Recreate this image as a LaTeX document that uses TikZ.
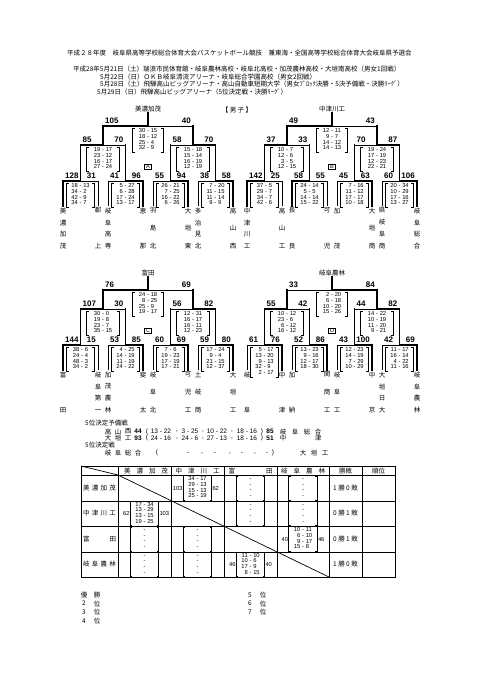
\documentclass[tikz,border=0pt]{standalone}
\usepackage{fontspec}
\setmainfont{Noto Sans CJK JP}
\newfontfamily\suji{Liberation Sans}
\newcommand{\futo}[1]{{\suji\bfseries #1}}
\newcommand{\dan}{\par\vfill}
% coordinates of one block
\newcommand{\kumi}[3]{%
  \foreach \nn/\xl/\xr/\yh/\yb/\yu in {1/63/98/181/206/145,2/108/143/181/206/145,
    3/153/188/181/206/145,4/198/233/181/206/145,5/80.5/125.5/145/145/126,
    6/170.5/215.5/145/145/126,7/103/193/126/126/113}{
    \coordinate (#1\nn L) at (\xl+#2,\yh+#3);
    \coordinate (#1\nn R) at (\xr+#2,\yh+#3);
    \coordinate (#1\nn M) at ({(\xl+\xr)/2+#2},\yh+#3);
    \coordinate (#1\nn Lb) at (\xl+#2,\yb+#3);
    \coordinate (#1\nn Rb) at (\xr+#2,\yb+#3);
    \coordinate (#1\nn U) at ({(\xl+\xr)/2+#2},\yu+#3);
  }}
% one game of the bracket
\newcommand{\bout}[6]{%
  \draw[#3] (#1#2Lb) -- (#1#2L) -- (#1#2M);
  \draw[#4] (#1#2Rb) -- (#1#2R) -- (#1#2M);
  \draw[win] (#1#2M) -- (#1#2U);
  \node[ten,anchor=south west] (#1#2a) at (#1#2L) {#5};
  \node[ten,anchor=south east] (#1#2b) at (#1#2R) {#6};}
% period scores in brackets
\newcommand{\kakko}[4][]{%
  \node[waku,#1] (#2) at (#3) {\begin{tabular}{@{}r@{\hspace{1.8pt}-\hspace{1.8pt}}l@{}}#4\end{tabular}};
  \draw[kk] ([xshift=2pt]#2.north west) -- (#2.north west) -- (#2.south west) -- ([xshift=2pt]#2.south west);
  \draw[kk] ([xshift=-2pt]#2.north east) -- (#2.north east) -- (#2.south east) -- ([xshift=-2pt]#2.south east);}
\newcommand{\kekka}[5]{%
  \kakko[minimum width=28pt]{#1}{#2}{#3}
  \node[chi,anchor=east] (#1a) at (#1.west) {#4};
  \node[chi,anchor=west] (#1b) at (#1.east) {#5};}
\newcommand{\kara}[2]{\kakko[minimum width=28pt]{#1}{#2}{&\\&\\&\\&}}
\newcommand{\team}[3]{\node[mei] (#1) at (#2) {\parbox[t][41pt][s]{8pt}{\centering #3}};}

\begin{document}
\begin{tikzpicture}[x=1pt,y=-1pt,
  win/.style={line width=1.8pt,line cap=rect},
  lose/.style={line width=0.7pt},
  kk/.style={line width=0.7pt},
  hyo/.style={line width=0.7pt},
  ten/.style={font=\suji\bfseries\fontsize{8}{8}\selectfont,inner xsep=2pt,inner ysep=2.3pt},
  waku/.style={font=\suji\fontsize{5.8}{5.6}\selectfont,inner xsep=0pt,inner ysep=0.5pt},
  chi/.style={font=\suji\fontsize{5.8}{5.8}\selectfont,inner sep=0.6pt},
  k1/.style={anchor=north,minimum width=27pt},
  k2/.style={anchor=north,minimum width=32pt},
  k3/.style={anchor=north,minimum width=30pt},
  mei/.style={font=\fontsize{6.5}{6.5}\selectfont,anchor=north,inner xsep=0pt,inner ysep=1.5pt},
  kname/.style={font=\fontsize{6.5}{6.5}\selectfont,anchor=south,inner sep=0.3pt},
  kigou/.style={draw,line width=0.6pt,font=\suji\fontsize{5.5}{5.5}\selectfont,inner sep=0.8pt,minimum width=7pt},
  moji/.style={font=\fontsize{6.5}{6.5}\selectfont,inner sep=0pt}]
\fill[white] (0,0) rectangle (481,680);
\useasboundingbox (0,0) rectangle (481,680);

% heading
\node[moji,anchor=west] (title) at (67,53) {平成２８年度　岐阜県高等学校総合体育大会バスケットボール競技　兼東海・全国高等学校総合体育大会岐阜県予選会};
\node[moji,anchor=west] (hi1) at (73,69) {平成28年5月21日（土）瑞浪市民体育館・岐阜農林高校・岐阜北高校・加茂農林高校・大垣南高校（男女1回戦）};
\node[moji,anchor=west] (hi2) at (100,76.7) {5月22日（日）ＯＫＢ岐阜清流アリーナ・岐阜総合学園高校（男女2回戦）};
\node[moji,anchor=west] (hi3) at (100,84.3) {5月28日（土）飛騨高山ビッグアリーナ・高山自動車短期大学（男女ﾌﾞﾛｯｸ決勝・5決予備戦・決勝ﾘｰｸﾞ）};
\node[moji,anchor=west] (hi4) at (97,91.7) {5月29日（日）飛騨高山ビッグアリーナ（5位決定戦・決勝ﾘｰｸﾞ）};
\node[moji] (danshi) at (237,110) {【 男 子 】};

\kumi{A}{0}{0}
\kumi{B}{184}{0}
\kumi{C}{0}{164}
\kumi{D}{184}{164}

% block A
\bout{A}{1}{win}{lose}{128}{31}
\bout{A}{2}{lose}{win}{41}{96}
\bout{A}{3}{lose}{win}{55}{94}
\bout{A}{4}{lose}{win}{38}{58}
\bout{A}{5}{win}{lose}{85}{70}
\bout{A}{6}{lose}{win}{58}{70}
\bout{A}{7}{win}{lose}{105}{40}
\node[kname] (Awin) at (A7U) {美濃加茂};
\kakko[k3]{A7k}{[yshift=-2pt]A7M}{30&15\\18&12\\25&4\\32&9}
\kakko[k2]{A5k}{[yshift=-2pt]A5M}{19&17\\23&12\\16&17\\27&24}
\kakko[k2]{A6k}{[yshift=-2pt]A6M}{15&18\\15&14\\16&19\\12&19}
\kakko[k1]{A1k}{[yshift=-2pt]A1M}{18&13\\34&2\\42&9\\34&7}
\kakko[k1]{A2k}{[yshift=-2pt]A2M}{5&27\\6&28\\17&24\\13&17}
\kakko[k1]{A3k}{[yshift=-2pt]A3M}{26&21\\7&25\\16&22\\6&26}
\kakko[k1]{A4k}{[yshift=-2pt]A4M}{7&20\\11&15\\11&14\\9&9}
\node[kigou] (Akg) at (148,167) {A};
\team{nA1}{A1Lb}{美\dan 濃\dan 加\dan 茂}
\team{nA2}{A1Rb}{郡\dan 上}
\team{nA3}{A2Lb}{岐\dan 阜\dan 高\dan 専}
\team{nA4}{A2Rb}{恵\dan 那}
\team{nA5}{A3Lb}{羽\dan 島\dan 北}
\team{nA6}{A3Rb}{大\dan 垣\dan 東}
\team{nA7}{A4Lb}{多\dan 治\dan 見\dan 北}
\team{nA8}{A4Rb}{高\dan 山\dan 西}

% block B
\bout{B}{1}{win}{lose}{142}{25}
\bout{B}{2}{win}{lose}{58}{55}
\bout{B}{3}{lose}{win}{45}{63}
\bout{B}{4}{lose}{win}{60}{106}
\bout{B}{5}{win}{lose}{37}{33}
\bout{B}{6}{lose}{win}{70}{87}
\bout{B}{7}{win}{lose}{49}{43}
\node[kname] (Bwin) at (B7U) {中津川工};
\kakko[k3]{B7k}{[yshift=-2pt]B7M}{12&11\\9&7\\14&12\\14&13}
\kakko[k2]{B5k}{[yshift=-2pt]B5M}{10&7\\12&6\\3&5\\12&15}
\kakko[k2]{B6k}{[yshift=-2pt]B6M}{19&24\\17&19\\12&23\\22&21}
\kakko[k1]{B1k}{[yshift=-2pt]B1M}{37&5\\29&7\\34&7\\42&6}
\kakko[k1]{B2k}{[yshift=-2pt]B2M}{24&14\\5&5\\14&14\\15&22}
\kakko[k1]{B3k}{[yshift=-2pt]B3M}{7&16\\11&12\\17&17\\10&18}
\kakko[k1]{B4k}{[yshift=-2pt]B4M}{20&34\\10&29\\17&16\\13&27}
\node[kigou] (Bkg) at (332,167) {B};
\team{nB1}{B1Lb}{中\dan 津\dan 川\dan 工}
\team{nB2}{B1Rb}{高\dan 山\dan 工}
\team{nB3}{B2Lb}{長\dan 良}
\team{nB4}{B2Rb}{可\dan 児}
\team{nB5}{B3Lb}{加\dan 茂}
\team{nB6}{B3Rb}{大\dan 垣\dan 商}
\team{nB7}{B4Lb}{県\dan 岐\dan 阜\dan 商}
\team{nB8}{B4Rb}{岐\dan 阜\dan 総\dan 合}

% block C
\bout{C}{1}{win}{lose}{144}{15}
\bout{C}{2}{lose}{win}{53}{85}
\bout{C}{3}{lose}{win}{60}{69}
\bout{C}{4}{lose}{win}{59}{80}
\bout{C}{5}{win}{lose}{107}{30}
\bout{C}{6}{lose}{win}{56}{82}
\bout{C}{7}{win}{lose}{76}{69}
\node[kname] (Cwin) at (C7U) {富田};
\kakko[k3]{C7k}{[yshift=-2pt]C7M}{24&18\\8&25\\25&9\\19&17}
\kakko[k2]{C5k}{[yshift=-2pt]C5M}{30&0\\19&8\\23&7\\35&15}
\kakko[k2]{C6k}{[yshift=-2pt]C6M}{12&31\\16&17\\16&11\\12&23}
\kakko[k1]{C1k}{[yshift=-2pt]C1M}{38&6\\24&4\\48&3\\34&2}
\kakko[k1]{C2k}{[yshift=-2pt]C2M}{4&25\\14&19\\11&19\\24&22}
\kakko[k1]{C3k}{[yshift=-2pt]C3M}{7&6\\19&23\\17&19\\17&21}
\kakko[k1]{C4k}{[yshift=-2pt]C4M}{17&24\\9&4\\21&15\\12&37}
\node[kigou] (Ckg) at (148,331) {C};
\team{nC1}{C1Lb}{富\dan 田}
\team{nC2}{C1Rb}{岐\dan 阜\dan 第\dan 一}
\team{nC3}{C2Lb}{加\dan 茂\dan 農\dan 林}
\team{nC4}{C2Rb}{斐\dan 太}
\team{nC5}{C3Lb}{岐\dan 阜\dan 北}
\team{nC6}{C3Rb}{可\dan 児\dan 工}
\team{nC7}{C4Lb}{土\dan 岐\dan 商}
\team{nC8}{C4Rb}{大\dan 垣\dan 工}

% block D
\bout{D}{1}{lose}{win}{61}{76}
\bout{D}{2}{lose}{win}{52}{86}
\bout{D}{3}{lose}{win}{43}{100}
\bout{D}{4}{lose}{win}{42}{69}
\bout{D}{5}{win}{lose}{55}{42}
\bout{D}{6}{lose}{win}{44}{82}
\bout{D}{7}{lose}{win}{33}{84}
\node[kname] (Dwin) at (D7U) {岐阜農林};
\kakko[k3]{D7k}{[yshift=-2pt]D7M}{2&20\\6&18\\10&20\\15&26}
\kakko[k2]{D5k}{[yshift=-2pt]D5M}{10&12\\23&6\\6&12\\16&12}
\kakko[k2]{D6k}{[yshift=-2pt]D6M}{14&22\\10&19\\11&20\\9&21}
\kakko[k1]{D1k}{[yshift=-2pt]D1M}{5&17\\13&20\\9&13\\32&9\\2&17}
\kakko[k1]{D2k}{[yshift=-2pt]D2M}{13&23\\9&16\\12&17\\18&30}
\kakko[k1]{D3k}{[yshift=-2pt]D3M}{12&23\\14&19\\7&29\\10&29}
\kakko[k1]{D4k}{[yshift=-2pt]D4M}{11&17\\16&14\\4&22\\11&16}
\node[kigou] (Dkg) at (332,331) {D};
\team{nD1}{D1Lb}{岐\dan 阜}
\team{nD2}{D1Rb}{中\dan 津}
\team{nD3}{D2Lb}{加\dan 納}
\team{nD4}{D2Rb}{関\dan 商\dan 工}
\team{nD5}{D3Lb}{岐\dan 阜\dan 工}
\team{nD6}{D3Rb}{中\dan 京}
\team{nD7}{D4Lb}{大\dan 垣\dan 日\dan 大}
\team{nD8}{D4Rb}{岐\dan 阜\dan 農\dan 林}

% 5th place games
\node[moji,anchor=west] (yobi) at (85,423.3) {5位決定予備戦};
\foreach \x/\t [count=\i] in {108/高,118/山,128/西,138/\futo{44},147/{\suji(},161/{\suji 13 - 22},177/{\suji,},
    190/{\suji 3 - 25},203/{\suji,},217/{\suji 10 - 22},232/{\suji,},247/{\suji 18 - 16},262/{\suji)},270/\futo{85},
    283/岐,295/阜,307/総,318/合}
  \node[moji] (ga\i) at (\x,431.7) {\t};
\foreach \x/\t [count=\i] in {108/大,118/垣,128/工,138/\futo{93},147/{\suji(},161/{\suji 24 - 16},177/{\suji,},
    190/{\suji 24 - 6},203/{\suji,},217/{\suji 27 - 13},232/{\suji,},247/{\suji 18 - 16},262/{\suji)},270/\futo{51},
    283/中,318/津}
  \node[moji] (gb\i) at (\x,438.3) {\t};
\node[moji,anchor=west] (kettei) at (85,445) {5位決定戦};
\foreach \x/\t [count=\i] in {108/岐,118/阜,128/総,138/合,157/{\suji(},188/{\suji -},202/{\suji,},215/{\suji -},
    230/{\suji,},242/{\suji -},255/{\suji,},267/{\suji -},273/{\suji)},303/大,314/垣,325/工}
  \node[moji] (gc\i) at (\x,453.3) {\t};

% league table
\draw[hyo] (81,466) rectangle (395,577);
\foreach \x in {118,171,224,277,329,362} \draw[hyo] (\x,466) -- (\x,577);
\foreach \y in {475,501,526,552} \draw[hyo] (81,\y) -- (395,\y);
\draw[hyo] (81,466) -- (118,475);
\draw[hyo] (118,475) -- (329,577);
\foreach \x/\t [count=\i] in {146/美\hfill 濃\hfill 加\hfill 茂,197.5/中\hfill 津\hfill 川\hfill 工,
    250.5/富\hfill 田,303/岐\hfill 阜\hfill 農\hfill 林}
  \node[moji] (hd\i) at (\x,470.7) {\makebox[44pt][s]{\t}};
\node[moji] (hd5) at (345.5,470.7) {勝敗};
\node[moji] (hd6) at (378.5,470.7) {順位};
\foreach \y/\t/\s [count=\i] in {488/美\hfill 濃\hfill 加\hfill 茂/1 勝 0 敗,513.5/中\hfill 津\hfill 川\hfill 工/0 勝 1 敗,
    539/富\hfill 田/0 勝 1 敗,564.5/岐\hfill 阜\hfill 農\hfill 林/1 勝 0 敗}{
  \node[moji] (rw\i) at (99.5,\y) {\makebox[33pt][s]{\t}};
  \node[moji] (sh\i) at (345.5,\y) {\s};}
\kekka{k12}{197.5,488}{34&17\\29&13\\15&13\\25&19}{103}{62}
\kara{k13}{250.5,488}
\kara{k14}{303,488}
\kekka{k21}{144.5,513.5}{17&34\\13&29\\13&15\\19&25}{62}{103}
\kara{k23}{250.5,513.5}
\kara{k24}{303,513.5}
\kara{k31}{144.5,539}
\kara{k32}{197.5,539}
\kekka{k34}{303,539}{10&11\\6&10\\9&17\\15&8}{40}{46}
\kara{k41}{144.5,564.5}
\kara{k42}{197.5,564.5}
\kekka{k43}{250.5,564.5}{11&10\\10&6\\17&9\\8&15}{46}{40}

% final standings
\foreach \a/\b/\y [count=\i] in {優/勝/595,2/位/603.6,3/位/612.2,4/位/620.8}{
  \node[moji] (ja\i) at (84,\y) {\a};
  \node[moji] (jb\i) at (97,\y) {\b};}
\foreach \a/\y [count=\i] in {5/595,6/603.6,7/612.2}{
  \node[moji] (jc\i) at (250,\y) {\a};
  \node[moji] (jd\i) at (263,\y) {位};}
\end{tikzpicture}
\end{document}
